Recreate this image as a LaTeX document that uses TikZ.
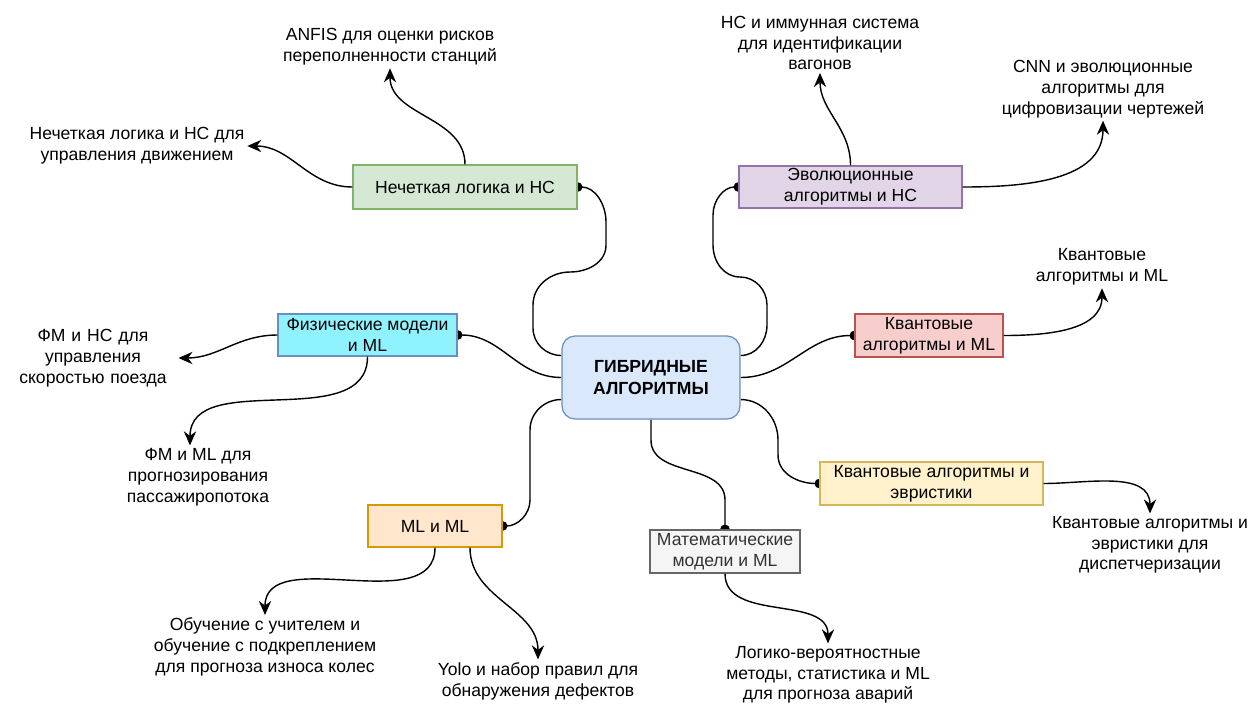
\documentclass[tikz,border=0pt]{standalone}
\usepackage{fontspec}
\setmainfont{Liberation Sans}
\usetikzlibrary{arrows.meta}
\usetikzlibrary{backgrounds}
\usetikzlibrary{calc}

\definecolor{centrfill}{HTML}{DAE8FC}
\definecolor{centrline}{HTML}{6C8EBF}
\definecolor{nlfill}{HTML}{D5E8D4}
\definecolor{nlline}{HTML}{82B366}
\definecolor{evfill}{HTML}{E1D5E7}
\definecolor{evline}{HTML}{9673A6}
\definecolor{fizfill}{HTML}{8FF3FF}
\definecolor{fizline}{HTML}{6C8EBF}
\definecolor{kvfill}{HTML}{F8CECC}
\definecolor{kvline}{HTML}{B85450}
\definecolor{evrfill}{HTML}{FFF2CC}
\definecolor{evrline}{HTML}{D6B656}
\definecolor{mlfill}{HTML}{FFE6CC}
\definecolor{mlline}{HTML}{D79B00}
\definecolor{matfill}{HTML}{F5F5F5}
\definecolor{matline}{HTML}{666666}
\definecolor{mattext}{HTML}{333333}

\begin{document}
\begin{tikzpicture}[x=0.02cm,y=0.02cm,
    box/.style={draw,line width=0.7pt,minimum height=0.86cm,inner sep=1pt,align=center,
        font=\fontsize{10}{11.8}\selectfont},
    leaf/.style={align=center,inner sep=1.5pt,font=\fontsize{10}{11.8}\selectfont},
    link/.style={line width=0.8pt,-{Circle[length=5.5pt]},shorten >=-2.75pt},
    arr/.style={line width=0.8pt,-{Stealth[length=8pt,width=7pt]}}]
    \useasboundingbox (0,0) rectangle (1250,-704);

    \node[box,fill=centrfill,draw=centrline,rounded corners=0.26cm,minimum width=3.56cm,
        minimum height=1.66cm,font=\fontsize{10}{12}\selectfont\bfseries] (centr) at (651,-377.5)
        {ГИБРИДНЫЕ\\АЛГОРИТМЫ};
    \node[box,fill=nlfill,draw=nlline,minimum width=4.48cm,minimum height=0.88cm] (nechet) at (465,-187)
        {Нечеткая логика и НС};
    \node[box,fill=evfill,draw=evline,minimum width=4.46cm,minimum height=0.84cm] (evol) at (850.5,-187)
        {Эволюционные\\алгоритмы и НС};
    \node[box,fill=fizfill,draw=fizline,minimum width=3.58cm,minimum height=0.84cm] (fiz) at (367.5,-335)
        {Физические модели\\и ML};
    \node[box,fill=kvfill,draw=kvline,minimum width=2.96cm] (kvml) at (929,-335.5)
        {Квантовые\\алгоритмы и ML};
    \node[box,fill=evrfill,draw=evrline,minimum width=4.46cm] (kvevr) at (931.5,-483.5)
        {Квантовые алгоритмы и\\эвристики};
    \node[box,fill=mlfill,draw=mlline,minimum width=2.68cm,minimum height=0.84cm] (mlml) at (435,-526)
        {ML и ML};
    \node[box,fill=matfill,draw=matline,text=mattext,minimum width=3cm] (matem) at (725,-551.5)
        {Математические\\модели и ML};

    \node[leaf] (anfis) at (390,-47) {ANFIS для оценки рисков\\переполненности станций};
    \node[leaf] (nechetleaf) at (137,-146) {Нечеткая логика и НС для\\управления движением};
    \node[leaf] (immun) at (820,-43) {НС и иммунная система\\для идентификации\\вагонов};
    \node[leaf] (cnn) at (1103,-89) {CNN и эволюционные\\алгоритмы для\\цифровизации чертежей};
    \node[leaf] (kvmlleaf) at (1102,-267) {Квантовые\\алгоритмы и ML};
    \node[leaf,text width=3.3cm] (fmns) at (93,-358) {ФМ и НС для\\управления\\скоростью поезда};
    \node[leaf] (fmml) at (198,-477) {ФМ и ML для\\прогнозирования\\пассажиропотока};
    \node[leaf] (kvevrleaf) at (1150,-545) {Квантовые алгоритмы и\\эвристики для\\диспетчеризации};
    \node[leaf] (obuch) at (265,-647) {Обучение с учителем и\\обучение с подкреплением\\для прогноза износа колес};
    \node[leaf] (yolo) at (538,-681) {Yolo и набор правил для\\обнаружения дефектов};
    \node[leaf] (logiko) at (828,-675) {Логико-вероятностные\\методы, статистика и ML\\для прогноза аварий};

    \begin{scope}[on background layer]
        \draw[link] ($(centr.west)+(0,22)$) to[out=180,in=-90] (533,-328) -- (533,-305)
            to[out=90,in=180] (570,-272) to[out=0,in=-90] (606,-245) -- (606,-222)
            to[out=90,in=0] (nechet.east);
        \draw[link] ($(centr.east)+(0,22)$) to[out=0,in=-90] (767,-325) -- (767,-305)
            to[out=90,in=0] (740,-277) to[out=180,in=-90] (713,-245) -- (713,-215)
            to[out=90,in=180] (evol.west);
        \draw[link] (centr.west) to[out=180,in=0] (fiz.east);
        \draw[link] (centr.east) to[out=0,in=180] (kvml.west);
        \draw[link] ($(centr.west)+(0,-22)$) to[out=180,in=90] (530,-430) -- (530,-500)
            to[out=-90,in=0] (mlml.east);
        \draw[link] (centr.south) -- (651,-440) to[out=-90,in=90] (725,-500) -- (matem.north);
        \draw[link] ($(centr.east)+(0,-22)$) to[out=0,in=90] (778,-440) -- (778,-455)
            to[out=-90,in=180] (kvevr.west);
    \end{scope}

    \draw[arr] (nechet.north) to[out=90,in=-90] (anfis.south);
    \draw[arr] (nechet.west) to[out=180,in=0] (nechetleaf.east);
    \draw[arr] (evol.north) to[out=90,in=-90] (immun.south);
    \draw[arr] (evol.east) to[out=0,in=-90] (cnn.south);
    \draw[arr] (kvml.east) to[out=0,in=-90] (kvmlleaf.south);
    \draw[arr] (fiz.west) to[out=180,in=0] (fmns.east);
    \draw[arr] (fiz.south) to[out=-90,in=90] ([xshift=-0.16cm]fmml.north);
    \draw[arr] (kvevr.east) to[out=0,in=90] (kvevrleaf.north);
    \draw[arr] (mlml.south) to[out=-90,in=90] (obuch.north);
    \draw[arr] ([xshift=0.7cm]mlml.south) to[out=-90,in=90] (yolo.north);
    \draw[arr] (matem.south) to[out=-90,in=90] (logiko.north);
\end{tikzpicture}
\end{document}
